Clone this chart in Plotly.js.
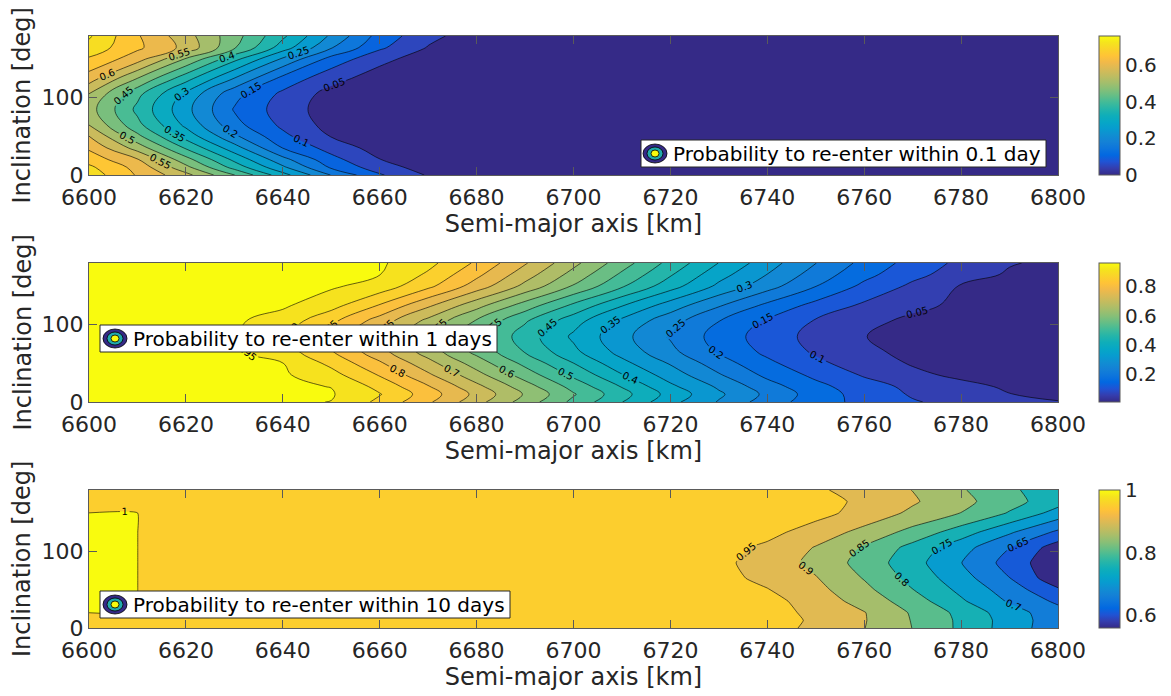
<!DOCTYPE html>
<html>
<head>
<meta charset="utf-8">
<script src="https://cdn.plot.ly/plotly-3.0.1.min.js"></script>
<style>
  html, body { margin: 0; padding: 0; background: #ffffff; }
  #chart { width: 1171px; height: 696px; }
</style>
</head>
<body>
<div id="chart"></div>
<script>
// Semi-major axis samples [km] (grid columns)
const semiMajorAxis = [6600, 6610, 6620, 6630, 6640, 6650, 6660, 6670, 6680, 6690, 6700,
                       6710, 6720, 6730, 6740, 6750, 6760, 6770, 6780, 6790, 6800];
// Inclination samples [deg] (grid rows)
const inclination = [0, 10, 20, 35, 50, 65, 85, 105, 125, 150, 165, 180];

// Probability to re-enter within 0.1 day, one row per inclination
const reentry01day = [
  [0.728, 0.645, 0.566, 0.451, 0.319, 0.198, 0.106, 0.045, 0.022, 0.014, 0.009, 0.005, 0.004, 0.003, 0.002, 0.001, 0.001, 0.0, 0.0, 0.0, 0.0],
  [0.71, 0.633, 0.514, 0.381, 0.259, 0.142, 0.073, 0.027, 0.017, 0.011, 0.007, 0.004, 0.003, 0.002, 0.001, 0.001, 0.0, 0.0, 0.0, 0.0, 0.0],
  [0.68, 0.604, 0.469, 0.338, 0.216, 0.117, 0.051, 0.023, 0.015, 0.009, 0.006, 0.004, 0.002, 0.002, 0.001, 0.001, 0.0, 0.0, 0.0, 0.0, 0.0],
  [0.642, 0.529, 0.394, 0.271, 0.149, 0.08, 0.029, 0.018, 0.011, 0.007, 0.005, 0.003, 0.002, 0.001, 0.001, 0.0, 0.0, 0.0, 0.0, 0.0, 0.0],
  [0.601, 0.463, 0.331, 0.21, 0.113, 0.048, 0.022, 0.014, 0.009, 0.006, 0.004, 0.002, 0.002, 0.001, 0.0, 0.0, 0.0, 0.0, 0.0, 0.0, 0.0],
  [0.549, 0.414, 0.288, 0.167, 0.089, 0.032, 0.019, 0.012, 0.008, 0.005, 0.003, 0.002, 0.001, 0.001, 0.0, 0.0, 0.0, 0.0, 0.0, 0.0, 0.0],
  [0.521, 0.388, 0.265, 0.146, 0.077, 0.025, 0.017, 0.011, 0.007, 0.004, 0.003, 0.002, 0.001, 0.0, 0.0, 0.0, 0.0, 0.0, 0.0, 0.0, 0.0],
  [0.549, 0.414, 0.288, 0.167, 0.089, 0.032, 0.019, 0.012, 0.008, 0.005, 0.003, 0.002, 0.001, 0.001, 0.0, 0.0, 0.0, 0.0, 0.0, 0.0, 0.0],
  [0.625, 0.499, 0.369, 0.248, 0.135, 0.067, 0.026, 0.016, 0.01, 0.006, 0.004, 0.003, 0.002, 0.001, 0.001, 0.0, 0.0, 0.0, 0.0, 0.0, 0.0],
  [0.693, 0.621, 0.494, 0.363, 0.241, 0.131, 0.064, 0.025, 0.016, 0.01, 0.006, 0.004, 0.003, 0.002, 0.001, 0.001, 0.0, 0.0, 0.0, 0.0, 0.0],
  [0.732, 0.66, 0.585, 0.456, 0.325, 0.204, 0.109, 0.047, 0.022, 0.014, 0.009, 0.006, 0.004, 0.003, 0.002, 0.001, 0.001, 0.0, 0.0, 0.0, 0.0],
  [0.757, 0.655, 0.57, 0.47, 0.36, 0.241, 0.131, 0.064, 0.025, 0.016, 0.01, 0.006, 0.004, 0.003, 0.002, 0.001, 0.001, 0.0, 0.0, 0.0, 0.0]
];

// Probability to re-enter within 1 day
const reentry1day = [
  [0.958, 0.958, 0.958, 0.958, 0.957, 0.949, 0.888, 0.808, 0.718, 0.627, 0.537, 0.451, 0.365, 0.296, 0.224, 0.174, 0.134, 0.104, 0.085, 0.068, 0.052],
  [0.958, 0.958, 0.958, 0.958, 0.957, 0.954, 0.903, 0.825, 0.736, 0.645, 0.555, 0.468, 0.382, 0.309, 0.238, 0.177, 0.129, 0.095, 0.071, 0.051, 0.040],
  [0.958, 0.958, 0.958, 0.958, 0.957, 0.949, 0.885, 0.804, 0.714, 0.623, 0.532, 0.447, 0.361, 0.292, 0.221, 0.165, 0.121, 0.088, 0.064, 0.043, 0.032],
  [0.958, 0.958, 0.958, 0.957, 0.957, 0.918, 0.846, 0.759, 0.668, 0.577, 0.489, 0.403, 0.326, 0.255, 0.188, 0.138, 0.095, 0.061, 0.040, 0.028, 0.020],
  [0.958, 0.958, 0.958, 0.957, 0.951, 0.888, 0.808, 0.718, 0.627, 0.537, 0.451, 0.365, 0.296, 0.224, 0.162, 0.112, 0.074, 0.046, 0.032, 0.023, 0.017],
  [0.958, 0.958, 0.958, 0.957, 0.924, 0.854, 0.768, 0.677, 0.586, 0.497, 0.412, 0.332, 0.263, 0.194, 0.138, 0.093, 0.059, 0.039, 0.028, 0.020, 0.014],
  [0.958, 0.958, 0.957, 0.955, 0.909, 0.833, 0.745, 0.655, 0.564, 0.476, 0.391, 0.316, 0.245, 0.180, 0.126, 0.084, 0.051, 0.035, 0.025, 0.018, 0.013],
  [0.958, 0.958, 0.958, 0.957, 0.929, 0.862, 0.777, 0.686, 0.595, 0.506, 0.421, 0.339, 0.270, 0.201, 0.143, 0.096, 0.063, 0.040, 0.029, 0.021, 0.015],
  [0.958, 0.958, 0.958, 0.957, 0.957, 0.918, 0.846, 0.759, 0.668, 0.577, 0.489, 0.403, 0.326, 0.255, 0.188, 0.134, 0.091, 0.061, 0.041, 0.030, 0.022],
  [0.958, 0.958, 0.958, 0.958, 0.958, 0.957, 0.929, 0.862, 0.777, 0.686, 0.595, 0.506, 0.421, 0.339, 0.270, 0.201, 0.138, 0.090, 0.046, 0.034, 0.025],
  [0.958, 0.958, 0.958, 0.958, 0.958, 0.957, 0.951, 0.892, 0.812, 0.723, 0.632, 0.541, 0.455, 0.369, 0.299, 0.228, 0.165, 0.114, 0.076, 0.043, 0.032],
  [0.958, 0.958, 0.958, 0.958, 0.958, 0.958, 0.957, 0.915, 0.842, 0.755, 0.664, 0.573, 0.484, 0.399, 0.322, 0.251, 0.185, 0.131, 0.088, 0.054, 0.038]
];

// Probability to re-enter within 10 days
const reentry10day = [
  [0.99, 0.988, 0.985, 0.984, 0.983, 0.982, 0.981, 0.98, 0.979, 0.978, 0.977, 0.976, 0.975, 0.971, 0.967, 0.940, 0.901, 0.849, 0.790, 0.727, 0.668],
  [0.99, 0.988, 0.985, 0.984, 0.983, 0.982, 0.981, 0.98, 0.979, 0.978, 0.977, 0.976, 0.976, 0.972, 0.967, 0.944, 0.903, 0.847, 0.790, 0.728, 0.670],
  [1.0, 1.0, 0.985, 0.984, 0.983, 0.982, 0.981, 0.98, 0.979, 0.978, 0.977, 0.976, 0.976, 0.972, 0.966, 0.940, 0.902, 0.844, 0.786, 0.722, 0.670],
  [1.0, 1.0, 0.985, 0.984, 0.983, 0.982, 0.981, 0.98, 0.979, 0.978, 0.977, 0.976, 0.975, 0.970, 0.967, 0.927, 0.881, 0.824, 0.757, 0.694, 0.640],
  [1.0, 1.0, 0.985, 0.984, 0.983, 0.982, 0.981, 0.98, 0.979, 0.978, 0.977, 0.976, 0.975, 0.970, 0.952, 0.915, 0.863, 0.801, 0.738, 0.675, 0.607],
  [1.0, 1.0, 0.985, 0.984, 0.983, 0.982, 0.981, 0.98, 0.979, 0.978, 0.977, 0.976, 0.972, 0.966, 0.937, 0.903, 0.847, 0.784, 0.720, 0.651, 0.565],
  [1.0, 1.0, 0.985, 0.984, 0.983, 0.982, 0.981, 0.98, 0.979, 0.978, 0.977, 0.976, 0.968, 0.962, 0.928, 0.886, 0.831, 0.769, 0.701, 0.630, 0.560],
  [1.0, 1.0, 0.985, 0.984, 0.983, 0.982, 0.981, 0.98, 0.979, 0.978, 0.977, 0.976, 0.972, 0.968, 0.940, 0.897, 0.844, 0.784, 0.720, 0.651, 0.575],
  [1.0, 1.0, 0.985, 0.984, 0.983, 0.982, 0.981, 0.98, 0.979, 0.978, 0.977, 0.976, 0.975, 0.970, 0.965, 0.927, 0.885, 0.833, 0.775, 0.707, 0.640],
  [1.0, 1.0, 0.985, 0.984, 0.983, 0.982, 0.981, 0.98, 0.979, 0.978, 0.977, 0.976, 0.978, 0.977, 0.975, 0.967, 0.931, 0.890, 0.849, 0.796, 0.730],
  [0.99, 0.988, 0.985, 0.984, 0.983, 0.982, 0.981, 0.98, 0.979, 0.978, 0.977, 0.976, 0.978, 0.977, 0.976, 0.968, 0.940, 0.906, 0.865, 0.818, 0.770],
  [0.99, 0.988, 0.985, 0.984, 0.983, 0.982, 0.981, 0.98, 0.979, 0.978, 0.977, 0.976, 0.978, 0.977, 0.975, 0.958, 0.929, 0.899, 0.855, 0.810, 0.765]
];

const legendLabels = [
  'Probability to re-enter within 0.1 day',
  'Probability to re-enter within 1 days',
  'Probability to re-enter within 10 days'
];
const colorbarTicks = [[0, 0.2, 0.4, 0.6], [0.2, 0.4, 0.6, 0.8], [0.6, 0.8, 1]];
const xTicks = [6600, 6620, 6640, 6660, 6680, 6700, 6720, 6740, 6760, 6780, 6800];
const yTicks = [0, 100];

// Parula colormap stops
const parulaRGB = [
  [53, 42, 135], [53, 61, 173], [32, 83, 212], [2, 104, 225], [13, 117, 220],
  [20, 129, 214], [16, 142, 210], [7, 156, 207], [6, 167, 198], [15, 174, 185],
  [37, 181, 169], [66, 187, 152], [101, 190, 134], [135, 191, 119], [165, 190, 107],
  [192, 188, 96], [217, 186, 86], [241, 185, 74], [255, 195, 55], [250, 211, 42],
  [245, 228, 29], [249, 251, 14]
];
const parulaPos = [0, 3, 6, 9, 12, 15, 18, 21, 24, 27, 30, 33, 36, 39, 42, 45, 48, 51, 54, 57, 60, 63];
const parula = parulaRGB.map((c, i) => [parulaPos[i] / 63, `rgb(${c[0]},${c[1]},${c[2]})`]);

const W = 1171, H = 696;
const FONT = 'DejaVu Sans';
const TXT = '#262626';
const AXC = '#5a5a5a';
const fx = v => v / W;
const fy = v => 1 - v / H;

const plotLeft = 89, plotRight = 1058;
const panels = [
  { z: reentry01day, top: 36, bottom: 175, levels: { start: 0.05, end: 0.75, size: 0.05 }, smoothing: 1.1,
    box: [641, 140, 1046, 167], icon: [655, 153.5], textX: 671 },
  { z: reentry1day, top: 263, bottom: 402, levels: { start: 0.05, end: 0.95, size: 0.05 }, smoothing: 1.1,
    box: [100, 325, 497, 352], icon: [115, 338.5], textX: 131 },
  { z: reentry10day, top: 490, bottom: 628, levels: { start: 0.5999, end: 0.9999, size: 0.05 }, smoothing: 0.45,
    box: [100, 591, 510, 618], icon: [115, 604.5], textX: 131 }
];

const data = [];
const layout = {
  width: W, height: H,
  margin: { l: 0, r: 0, t: 0, b: 0 },
  paper_bgcolor: '#ffffff', plot_bgcolor: '#ffffff',
  showlegend: false,
  font: { family: FONT, color: TXT },
  shapes: [], annotations: []
};

panels.forEach((p, i) => {
  const n = i === 0 ? '' : String(i + 1);
  const xa = 'x' + n, ya = 'y' + n;

  // continuous scale shown beside each panel
  data.push({
    type: 'heatmap', x: semiMajorAxis, y: inclination, z: p.z,
    xaxis: xa, yaxis: ya, colorscale: parula, hoverinfo: 'skip',
    showscale: true,
    colorbar: {
      x: fx(1099), xanchor: 'left', xpad: 0, ypad: 0,
      y: (fy(p.top) + fy(p.bottom)) / 2, yanchor: 'middle',
      len: (p.bottom - p.top) / H, lenmode: 'fraction',
      thickness: 21, thicknessmode: 'pixels',
      outlinewidth: 1, outlinecolor: AXC,
      tickvals: colorbarTicks[i], ticks: '',
      tickfont: { family: FONT, size: 20, color: TXT }
    }
  });

  // filled contours with labelled black lines
  data.push({
    type: 'contour', x: semiMajorAxis, y: inclination, z: p.z,
    xaxis: xa, yaxis: ya, colorscale: parula, showscale: false, hoverinfo: 'skip',
    autocontour: false,
    contours: {
      coloring: 'fill', start: p.levels.start, end: p.levels.end, size: p.levels.size,
      showlabels: true, labelformat: '.2~g',
      labelfont: { family: FONT, size: 10, color: '#000000' }
    },
    line: { color: '#000000', width: 0.6, smoothing: p.smoothing }
  });

  layout['xaxis' + n] = {
    domain: [fx(plotLeft), fx(plotRight)], anchor: ya,
    range: [6600, 6800], tickvals: xTicks,
    ticks: 'inside', ticklen: 8, tickwidth: 1, tickcolor: AXC,
    mirror: 'ticks', showline: true, linecolor: AXC, linewidth: 1,
    showgrid: false, zeroline: false, fixedrange: true,
    ticklabelstandoff: 3,
    tickfont: { family: FONT, size: 22, color: TXT },
    title: { text: 'Semi-major axis [km]', font: { family: FONT, size: 24, color: TXT }, standoff: 3 }
  };
  layout['yaxis' + n] = {
    domain: [fy(p.bottom), fy(p.top)], anchor: xa,
    range: [0, 180], tickvals: yTicks,
    ticks: 'inside', ticklen: 8, tickwidth: 1, tickcolor: AXC,
    mirror: 'ticks', showline: true, linecolor: AXC, linewidth: 1,
    showgrid: false, zeroline: false, fixedrange: true,
    tickfont: { family: FONT, size: 22, color: TXT }
  };

  // vertical axis title
  layout.annotations.push({
    xref: 'paper', yref: 'paper', x: fx(22), y: fy((p.top + p.bottom) / 2),
    xanchor: 'center', yanchor: 'middle', showarrow: false, textangle: -90,
    text: 'Inclination [deg]', font: { family: FONT, size: 24, color: TXT }
  });

  // legend box with a small contour icon
  const [bx0, by0, bx1, by1] = p.box;
  layout.shapes.push({
    type: 'rect', xref: 'paper', yref: 'paper',
    x0: fx(bx0), x1: fx(bx1), y0: fy(by1), y1: fy(by0),
    fillcolor: '#ffffff', line: { color: '#262626', width: 1 }
  });
  const [cx, cy] = p.icon;
  [[12, 9.5, 'rgb(53,42,135)'], [8, 6.5, 'rgb(33,170,172)'], [4, 3.5, 'rgb(249,251,14)']].forEach(e => {
    layout.shapes.push({
      type: 'circle', xref: 'paper', yref: 'paper',
      x0: fx(cx - e[0]), x1: fx(cx + e[0]), y0: fy(cy + e[1]), y1: fy(cy - e[1]),
      fillcolor: e[2], line: { color: '#000000', width: 0.8 }
    });
  });
  layout.annotations.push({
    xref: 'paper', yref: 'paper', x: fx(p.textX), y: fy((by0 + by1) / 2),
    xanchor: 'left', yanchor: 'middle', showarrow: false,
    text: legendLabels[i], font: { family: FONT, size: 20, color: '#000000' }
  });
});

Plotly.newPlot('chart', data, layout, { staticPlot: true, displayModeBar: false });
</script>
</body>
</html>
